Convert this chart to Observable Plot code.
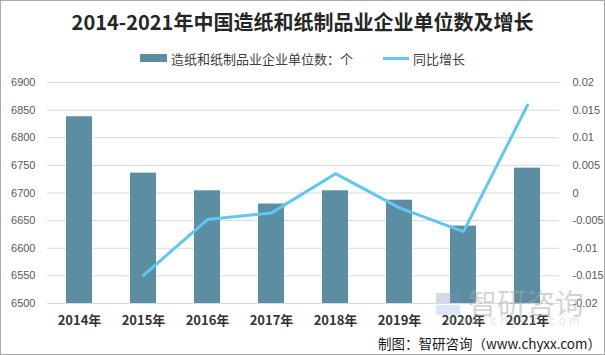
<!DOCTYPE html>
<html>
<head>
<meta charset="utf-8">
<script src="https://cdn.jsdelivr.net/npm/d3@7"></script>
<script src="https://cdn.jsdelivr.net/npm/@observablehq/plot@0.6"></script>
<style>
  html, body { margin: 0; padding: 0; background: #fff; }
  #wrap { position: relative; width: 605px; height: 355px; overflow: hidden; background: #fff;
          font-family: "Noto Sans CJK SC", "Noto Sans", sans-serif; }
  #frame { position: absolute; left: 0; top: 0; width: 603px; height: 353px; border: 1px solid #a9a9a9; pointer-events: none; }
  #title { position: absolute; left: 0; width: 605px; top: 8px; text-align: center; font-size: 20px; font-weight: bold;
           color: #262626; line-height: 28px; font-family: "Noto Sans CJK SC", sans-serif; }
  #legend { position: absolute; left: 0; width: 605px; top: 48px; height: 20px; display: flex; justify-content: center;
            align-items: center; font-size: 13px; color: #404040; }
  .lg { display: flex; align-items: center; }
  .sw-bar { width: 27px; height: 8px; margin-right: 4px; }
  .sw-line { width: 26px; height: 3px; margin-right: 4px; }
  #chart { position: absolute; left: 0; top: 70px; }
  #caption { position: absolute; right: 4px; top: 333px; font-size: 13.5px; color: #1a1a1a; line-height: 20px; }
  #wm { position: absolute; left: 468px; top: 286px; font-size: 29px; color: rgba(170,170,170,0.5); letter-spacing: 0px; line-height: 32px; }
  #wm2 { position: absolute; left: 446px; top: 314px; font-size: 12px; color: rgba(190,190,190,0.45); letter-spacing: 4px; font-family: "Liberation Sans", sans-serif; white-space: nowrap; }
  #logo1 { position: absolute; left: 436px; top: 293px; width: 24px; height: 10px; background: rgba(120,150,190,0.35); }
  #logo2 { position: absolute; left: 436px; top: 305px; width: 24px; height: 10px; background: rgba(150,185,225,0.35); }
</style>
</head>
<body>
<div id="wrap">
  <div id="title"></div>
  <div id="legend"></div>
  <div id="chart"></div>
  <div id="logo1"></div><div id="logo2"></div>
  <div id="wm">智研咨询</div>
  <div id="wm2">www.chyxx.com</div>
  <div id="caption">制图：智研咨询（www.chyxx.com）</div>
  <div id="frame"></div>
</div>
<script>
const titleText = "2014-2021年中国造纸和纸制品业企业单位数及增长";
const years = ["2014年","2015年","2016年","2017年","2018年","2019年","2020年","2021年"];
const units = [6838, 6736, 6704, 6680, 6704, 6687, 6640, 6745];
const growthYears = ["2015年","2016年","2017年","2018年","2019年","2020年","2021年"];
const growth = [-0.0149, -0.0048, -0.0036, 0.0035, -0.0027, -0.0070, 0.0159];
const leftTicks = [6500, 6550, 6600, 6650, 6700, 6750, 6800, 6850, 6900];
const rightTicks = [-0.02, -0.015, -0.01, -0.005, 0, 0.005, 0.01, 0.015, 0.02];
const seriesNames = ["造纸和纸制品业企业单位数：个", "同比增长"];
const barColor = "#5b8ea3";
const lineColor = "#5ec8f0";

document.getElementById("title").textContent = titleText;
const lg = document.getElementById("legend");
lg.innerHTML = `<div class="lg"><div class="sw-bar" style="background:${barColor}"></div>${seriesNames[0]}</div>
<div class="lg" style="margin-left:30px"><div class="sw-line" style="background:${lineColor}"></div>${seriesNames[1]}</div>`;

// map right-axis values into left scale domain
const lMin = 6500, lMax = 6900, rMin = -0.02, rMax = 0.02;
const toLeft = g => lMin + (g - rMin) / (rMax - rMin) * (lMax - lMin);
const toRight = d => Math.round(((d - lMin) / (lMax - lMin) * (rMax - rMin) + rMin) * 1000) / 1000;

const bars = years.map((y, i) => ({year: y, value: units[i]}));
const line = growthYears.map((y, i) => ({year: y, v: toLeft(growth[i])}));

const chart = Plot.plot({
  width: 605,
  height: 263,
  marginTop: 12,
  marginBottom: 30,
  marginLeft: 47,
  marginRight: 46,
  style: {fontFamily: "'Liberation Sans', 'Noto Sans CJK SC', sans-serif", fontSize: "11px", color: "#595959", background: "transparent"},
  x: {domain: years, paddingInner: 0.6, paddingOuter: 0.3, axis: null, label: null},
  y: {domain: [lMin, lMax], axis: null, label: null},
  marks: [
    Plot.ruleY(leftTicks, {stroke: "#d9d9d9", strokeWidth: 1}),
    Plot.barY(bars, {x: "year", y: "value", y1: lMin, fill: barColor}),
    Plot.line(line, {x: "year", y: "v", stroke: lineColor, strokeWidth: 3, strokeLinejoin: "round"}),
    Plot.axisY(leftTicks, {anchor: "left", tickSize: 0, tickPadding: 12, fontSize: 11, fill: "#595959",
      label: null, tickFormat: d => String(d)}),
    Plot.axisY(rightTicks.map(toLeft), {anchor: "right", tickSize: 0, tickPadding: 13, fontSize: 11, fill: "#595959",
      label: null, tickFormat: d => String(toRight(d))}),
    Plot.axisX(years, {anchor: "bottom", tickSize: 0, tickPadding: 12, fontSize: 13, fontWeight: "bold", fill: "#333",
      label: null, fontFamily: "'Noto Sans CJK SC', sans-serif"})
  ]
});
document.getElementById("chart").appendChild(chart);
</script>
</body>
</html>
